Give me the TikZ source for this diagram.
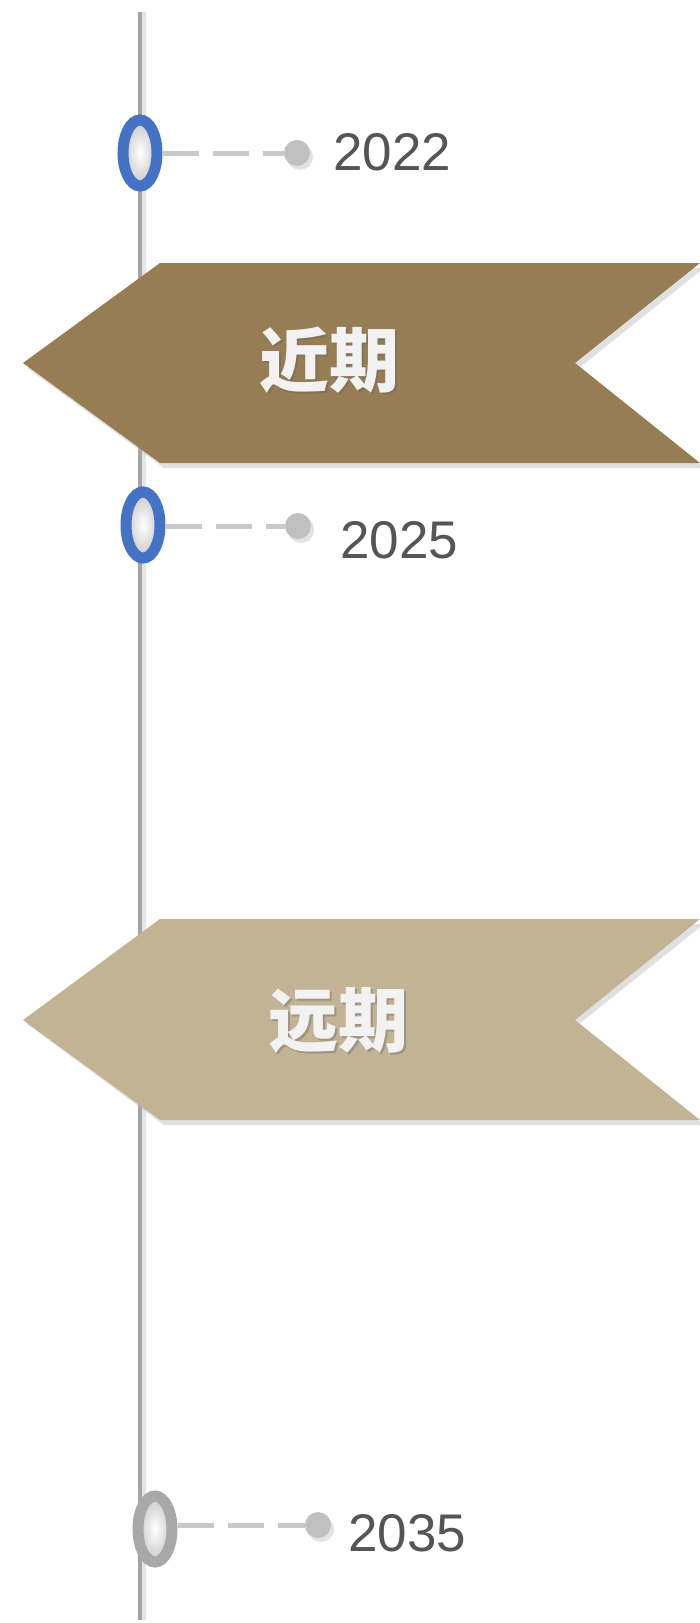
\documentclass[tikz,border=0pt]{standalone}
\usepackage{fontspec}
\setmainfont{Liberation Sans}
\newfontfamily\cjk{Noto Sans CJK SC}
\usetikzlibrary{shapes.geometric}
\definecolor{ribA}{RGB}{150,125,83}
\definecolor{ribB}{RGB}{194,179,148}
\definecolor{ringblue}{RGB}{68,114,196}
\definecolor{ringgray}{RGB}{168,168,168}
\definecolor{axisgray}{RGB}{165,165,165}
\definecolor{dotgray}{RGB}{192,192,192}
\definecolor{dashgray}{RGB}{200,200,200}
\definecolor{yeartext}{RGB}{85,85,85}
\definecolor{ribtext}{RGB}{242,242,242}
\tikzset{
  ring/.style={draw=#1, ellipse, line width=11pt, minimum width=34pt, minimum height=66pt, inner sep=0pt,
    shading=radial, inner color=white, outer color={rgb,255:red,200;green,200;blue,200}},
  yeardot/.style={circle, fill=dotgray, minimum size=26pt, inner sep=0pt},
  dotshadow/.style={circle, fill=black!25, opacity=0.45, minimum size=26pt, inner sep=0pt},
  dashlink/.style={draw=dashgray, line width=5pt, dash pattern=on 36pt off 14pt},
  yearlabel/.style={anchor=west, inner sep=0pt, text=yeartext, font=\fontsize{53}{60}\selectfont},
  ribshadow/.style={fill=black!30, opacity=0.4},
  ribtitle/.style={inner sep=0pt, text=ribtext, font=\cjk\bfseries\fontsize{70}{80}\selectfont},
  ribtitleshadow/.style={inner sep=0pt, text=black!60, opacity=0.4, font=\cjk\bfseries\fontsize{70}{80}\selectfont}
}
\begin{document}
\begin{tikzpicture}[x=1pt,y=-1pt]
\useasboundingbox (0,0) rectangle (700,1623);
\fill[white] (0,0) rectangle (700,1623);
% axis
\coordinate (axtop) at (140,12);
\coordinate (axbot) at (140,1620);
\draw[line width=4pt, black!10] ([xshift=4pt]axtop) -- ([xshift=4pt]axbot);
\draw[line width=4pt, axisgray] (axtop) -- (axbot);
% ribbon 1
\fill[ribshadow] (164,268) -- (704,268) -- (579,368) -- (704,468) -- (164,468) -- (27,368) -- cycle;
\fill[ribA] (160,263) -- (700,263) -- (575,363) -- (700,463) -- (160,463) -- (23,363) -- cycle;
\node[ribtitleshadow] at (331.5,362.5) {近期};
\node[ribtitle] (t1) at (329,360) {近期};
% ribbon 2
\fill[ribshadow] (164,924) -- (704,924) -- (579,1024) -- (704,1125) -- (164,1125) -- (27,1024) -- cycle;
\fill[ribB] (160,919) -- (700,919) -- (575,1020) -- (700,1120) -- (160,1120) -- (23,1020) -- cycle;
\node[ribtitleshadow] at (340.5,1022.5) {远期};
\node[ribtitle] (t2) at (338,1020) {远期};
% milestone 2022
\node[ring=ringblue] (e1) at (140,153) {};
\node[dotshadow] at (300,157) {};
\node[yeardot] (d1) at (297,153) {};
\draw[dashlink] (e1.east |- d1) -- (d1.west);
\node[yearlabel] (y1) at (333,152) {2022};
% milestone 2025
\node[ring=ringblue] (e2) at (143,525) {};
\node[dotshadow] at (301,530) {};
\node[yeardot] (d2) at (298,526) {};
\draw[dashlink] (e2.east |- d2) -- (d2.west);
\node[yearlabel] (y2) at (340,540) {2025};
% milestone 2035
\node[ring=ringgray] (e3) at (155,1529) {};
\node[dotshadow] at (321,1529) {};
\node[yeardot] (d3) at (318,1525) {};
\draw[dashlink] (e3.east |- d3) -- (d3.west);
\node[yearlabel] (y3) at (348,1533) {2035};
\end{tikzpicture}
\end{document}
